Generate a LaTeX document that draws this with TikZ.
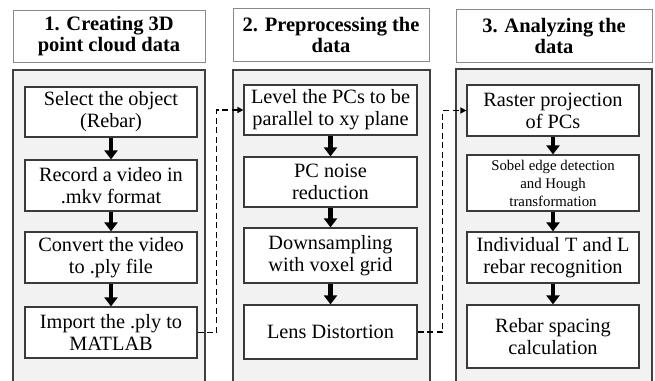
\documentclass[tikz,border=0pt]{standalone}
\usepackage{fontspec}
\setmainfont{Liberation Serif}
\usetikzlibrary{arrows.meta}

\definecolor{panelfill}{HTML}{F2F2F2}
\definecolor{panelline}{HTML}{404040}
\definecolor{headline}{HTML}{8A8A8A}
\definecolor{boxline}{HTML}{3A3A3A}

\tikzset{
  header/.style={draw=headline, line width=1pt, fill=white, inner sep=0pt,
    align=center, font=\fontsize{20.5}{21}\selectfont\bfseries},
  panel/.style={fill=panelfill, draw=panelline, line width=1.3pt},
  stepbox/.style={draw=boxline, line width=1.2pt, fill=white, inner sep=0pt,
    align=center, font=\fontsize{20.3}{22}\selectfont},
  smallbox/.style={stepbox, font=\fontsize{14.8}{18}\selectfont},
  flow/.style={line width=4.5pt, -{Triangle[width=13pt,length=9pt]}},
  link/.style={line width=1.4pt, dash pattern=on 6pt off 3.5pt,
    -{Triangle[width=6pt,length=6pt]}}
}

\begin{document}
\begin{tikzpicture}[x=1pt,y=-1pt]
\useasboundingbox (0,0) rectangle (655,380);
\clip (0,0) rectangle (655,380);

% stage panels (they run on below the page edge)
\fill[panelfill] (13,70) rectangle (205,395);
\draw[panel, fill=none] (13,395) -- (13,70) -- (205,70) -- (205,395);
\fill[panelfill] (233,70) rectangle (430,395);
\draw[panel, fill=none] (233,395) -- (233,70) -- (430,70) -- (430,395);
\fill[panelfill] (456,69) rectangle (652,395);
\draw[panel, fill=none] (456,395) -- (456,69) -- (652,69) -- (652,395);

% stage titles
\node[header, minimum width=192pt, minimum height=52pt] (h1) at (109,36)
  {1. Creating 3D\\point cloud data};
\node[header, minimum width=196pt, minimum height=53pt] (h2) at (331,34.5)
  {2. Preprocessing the\\data};
\node[header, minimum width=196pt, minimum height=53pt] (h3) at (554,35.5)
  {3. Analyzing the\\data};

% stage 1
\node[stepbox, minimum width=172pt, minimum height=50pt] (sel) at (111,112)
  {Select the object\\(Rebar)};
\node[stepbox, minimum width=172pt, minimum height=51pt] (rec) at (111,185.5)
  {Record a video in\\.mkv format};
\node[stepbox, minimum width=172pt, minimum height=51pt] (conv) at (111,257.5)
  {Convert the video\\to .ply file};
\node[stepbox, minimum width=172pt, minimum height=51pt] (imp) at (111,332.5)
  {Import the .ply to\\MATLAB};

% stage 2
\node[stepbox, minimum width=173pt, minimum height=50pt] (lev) at (330.5,110)
  {Level the PCs to be\\parallel to xy plane};
\node[stepbox, minimum width=173pt, minimum height=50pt] (noise) at (330.5,182)
  {PC noise\\reduction};
\node[stepbox, minimum width=173pt, minimum height=55pt] (down) at (330.5,255.5)
  {Downsampling\\with voxel grid};
\node[stepbox, minimum width=173pt, minimum height=54pt] (lens) at (330.5,332)
  {Lens Distortion};

% stage 3
\node[stepbox, minimum width=172pt, minimum height=51pt] (rast) at (553,110.5)
  {Raster projection\\of PCs};
\node[smallbox, minimum width=172pt, minimum height=56pt] (sob) at (553,183)
  {Sobel edge detection\\and Hough\\transformation};
\node[stepbox, minimum width=172pt, minimum height=51pt] (ind) at (553,257.5)
  {Individual T and L\\rebar recognition};
\node[stepbox, minimum width=172pt, minimum height=63pt] (spac) at (553,336.5)
  {Rebar spacing\\calculation};

% flow within each stage
\draw[flow] (sel.south) -- (rec.north);
\draw[flow] (rec.south) -- (conv.north);
\draw[flow] (conv.south) -- (imp.north);
\draw[flow] (lev.south) -- (noise.north);
\draw[flow] (noise.south) -- (down.north);
\draw[flow] (down.south) -- (lens.north);
\draw[flow] (rast.south) -- (sob.north);
\draw[flow] (sob.south) -- (ind.north);
\draw[flow] (ind.south) -- (spac.north);

% hand-over between stages
\draw[link] (imp.east) -- ++(19pt,0) |- (lev.west);
\draw[link] (lens.east) -- ++(25pt,0) |- (rast.west);
\end{tikzpicture}
\end{document}
